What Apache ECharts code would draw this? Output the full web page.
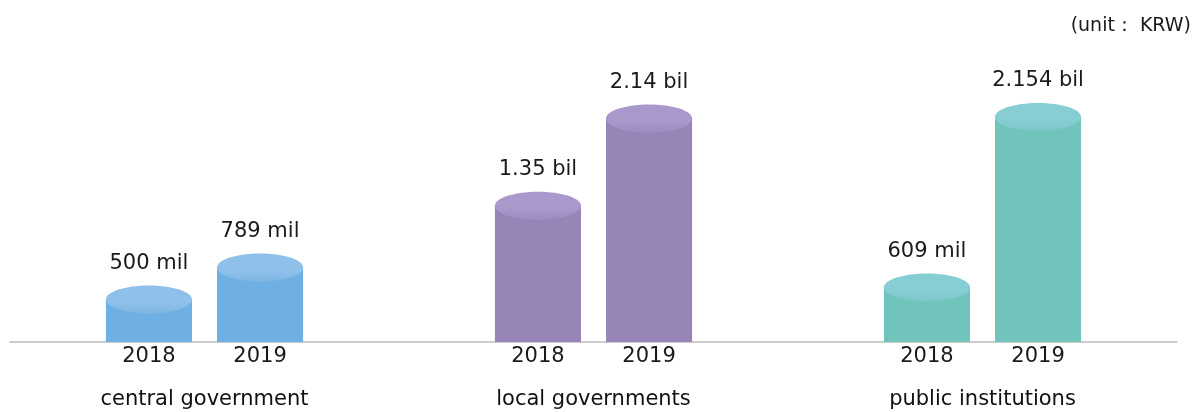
<!DOCTYPE html>
<html>
<head>
<meta charset="utf-8">
<script src="https://cdn.jsdelivr.net/npm/echarts@6/dist/echarts.min.js"></script>
<style>
  html, body { margin: 0; padding: 0; background: #ffffff; }
  #chart { width: 1202px; height: 412px; }
</style>
</head>
<body>
<div id="chart"></div>
<script>
// ---- data (values in million KRW) ----
const groups = ['central government', 'local governments', 'public institutions'];
const years = ['2018', '2019'];
const values2018 = [500, 1350, 609];
const values2019 = [789, 2140, 2154];
const labels2018 = ['500 mil', '1.35 bil', '609 mil'];
const labels2019 = ['789 mil', '2.14 bil', '2.154 bil'];
const unitText = '(unit\uFF1A KRW)';

// ---- styles ----
const bodyColors = ['#6eb0e3', '#9885b8', '#70c4bb'];
const topColors = ['#8fc0ea', '#a998cb', '#86ced3'];
const topShade = ['#80b6e3', '#9e8cc2', '#7cc6c9'];
const FONT = 'DejaVu Sans';
const Y_MIN = 115;   // value level at which the visible baseline sits
const Y_MAX = 3000;

function makeSeries(yearIdx, values, labels) {
  const offset = yearIdx === 0 ? -0.1428 : 0.1428;
  return {
    type: 'custom',
    name: years[yearIdx],
    data: values.map((v, i) => [i, v]),
    renderItem: function (params, api) {
      const i = api.value(0);
      const v = api.value(1);
      const top = api.coord([i, v]);
      const base = api.coord([i, Y_MIN]);
      const band = api.size([1, 0])[0];
      const cx = top[0] + offset * band;
      const bw = 0.2212 * band;
      const rx = bw / 2;
      const ry = 14;
      return {
        type: 'group',
        children: [
          {
            type: 'rect',
            shape: { x: cx - rx, y: top[1], width: bw, height: base[1] - top[1] },
            style: { fill: bodyColors[i] }
          },
          {
            type: 'ellipse',
            shape: { cx: cx, cy: top[1], rx: rx, ry: ry },
            style: {
              fill: new echarts.graphic.LinearGradient(0, 0, 0, 1, [
                { offset: 0, color: topColors[i] },
                { offset: 0.6, color: topColors[i] },
                { offset: 1, color: topShade[i] }
              ])
            }
          },
          {
            type: 'text',
            style: {
              x: cx, y: top[1] - ry - 22,
              text: labels[i],
              align: 'center', verticalAlign: 'middle',
              fontFamily: FONT, fontSize: 21, fill: '#1a1a1a'
            }
          },
          {
            type: 'text',
            style: {
              x: cx, y: base[1] + 15,
              text: years[yearIdx],
              align: 'center', verticalAlign: 'middle',
              fontFamily: FONT, fontSize: 21, fill: '#1a1a1a'
            }
          }
        ]
      };
    }
  };
}

const chart = echarts.init(document.getElementById('chart'), null, { renderer: 'canvas' });
chart.setOption({
  animation: false,
  backgroundColor: '#ffffff',
  textStyle: { fontFamily: FONT },
  title: {
    text: unitText,
    right: 11,
    top: 17,
    padding: 0,
    textStyle: { fontFamily: FONT, fontSize: 19, fontWeight: 'normal', color: '#1a1a1a' }
  },
  grid: { left: 10, right: 25, top: 23.6, bottom: 70, containLabel: false },
  xAxis: {
    type: 'category',
    data: groups,
    axisLine: { lineStyle: { color: '#bdbdbd', width: 1.5 } },
    axisTick: { show: false },
    axisLabel: {
      margin: 47,
      fontFamily: FONT,
      fontSize: 21,
      lineHeight: 21,
      color: '#111111',
      interval: 0
    }
  },
  yAxis: {
    type: 'value',
    min: Y_MIN,
    max: Y_MAX,
    show: false,
    splitLine: { show: false }
  },
  series: [
    makeSeries(0, values2018, labels2018),
    makeSeries(1, values2019, labels2019)
  ]
});
</script>
</body>
</html>
